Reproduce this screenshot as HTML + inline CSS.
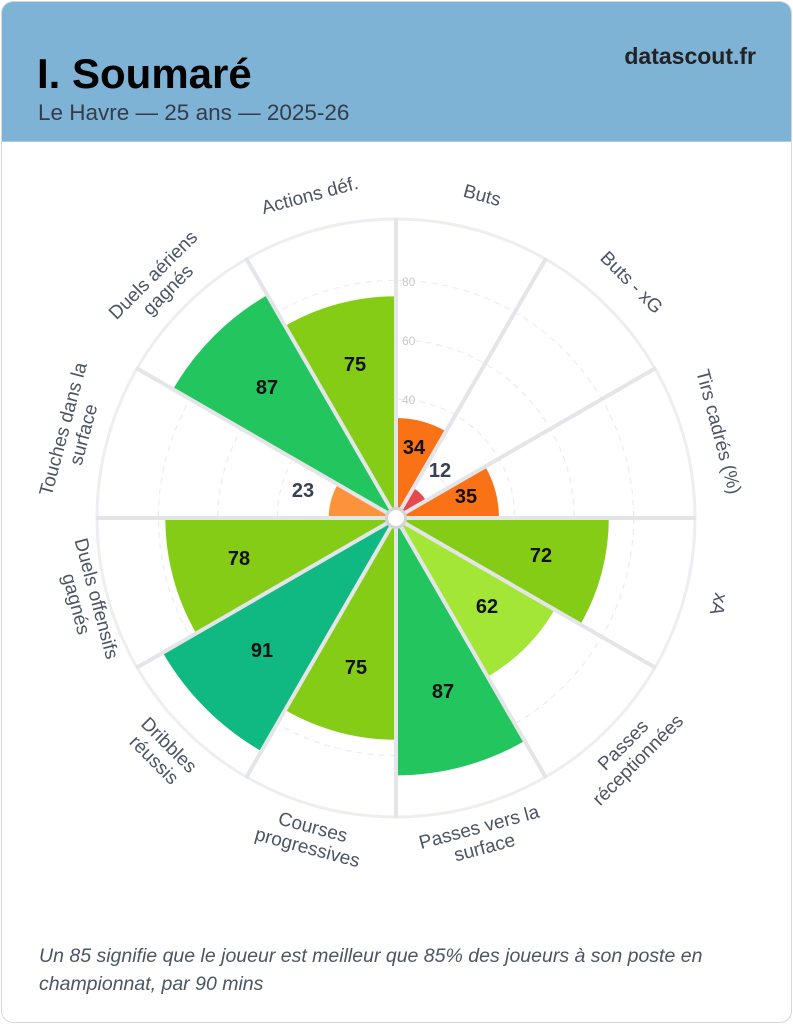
<!DOCTYPE html>
<html><head><meta charset="utf-8"><style>
html,body{margin:0;padding:0;background:#fff;}
body{width:793px;height:1024px;position:relative;font-family:"Liberation Sans",Arial,sans-serif;overflow:hidden}
.card{position:absolute;left:1px;top:1px;width:789px;height:1020px;border:1px solid #d4d8dd;border-radius:12px;overflow:hidden;background:#fff}
.hdr{position:absolute;left:0;top:0;width:789px;height:139px;background:#7fb3d6;border-bottom:1px solid #a9c9e0}
.t{position:absolute;left:35px;top:48px;font-size:42px;font-weight:bold;color:#000}
.s{position:absolute;left:36px;top:98px;font-size:22.5px;color:#333d4a}
.b{position:absolute;right:35px;top:41px;font-size:23px;font-weight:bold;color:#222}
.f{position:absolute;left:37px;top:940px;font-size:19.5px;font-style:italic;color:#4b5563;line-height:28px;width:730px}
svg{position:absolute;left:0;top:0}
</style></head><body>
<div class="card">
<div class="hdr"><div class="t">I. Soumaré</div><div class="s">Le Havre — 25 ans — 2025-26</div><div class="b">datascout.fr</div></div>
<div class="f">Un 85 signifie que le joueur est meilleur que 85% des joueurs à son poste en championnat, par 90 mins</div>
</div>
<svg width="793" height="1024" viewBox="0 0 793 1024">
<circle cx="396" cy="518" r="299" fill="none" stroke="#eceef1" stroke-width="3"/>
<g id="grid" fill="none" stroke="#ececee" stroke-width="1.2" stroke-dasharray="6,5">
<circle cx="396" cy="518" r="59.4"/><circle cx="396" cy="518" r="118.8"/><circle cx="396" cy="518" r="178.2"/><circle cx="396" cy="518" r="237.6"/>
</g>
<g id="bars" stroke="#fff" stroke-width="2"></g>
<g id="lines" stroke="#e4e5e8" stroke-width="4"></g>
<circle cx="396" cy="518" r="9.5" fill="#fff" stroke="#d4d4d8" stroke-width="3"/>
<g font-size="12" fill="#c8c8cc"><text x="402" y="286">80</text><text x="402" y="345">60</text><text x="402" y="404">40</text></g>
<g font-size="20" font-weight="bold" text-anchor="middle" dominant-baseline="central" fill="#111">
<text x="414" y="448">34</text>
<text x="440" y="471" fill="#374151">12</text>
<text x="466" y="497">35</text>
<text x="541" y="556">72</text>
<text x="487" y="607">62</text>
<text x="443" y="692">87</text>
<text x="356" y="668">75</text>
<text x="262" y="651">91</text>
<text x="239" y="559">78</text>
<text x="303" y="491" fill="#374151">23</text>
<text x="267" y="388">87</text>
<text x="355" y="365">75</text>
</g>
<g font-size="19" fill="#4b5563" text-anchor="middle" dominant-baseline="central">
<text transform="translate(482,196) rotate(15)">Buts</text>
<text transform="translate(631,283) rotate(45)">Buts - xG</text>
<text transform="translate(718,432) rotate(75)">Tirs cadrés (%)</text>
<text transform="translate(718,604) rotate(105)">xA</text>
<text transform="translate(631,753) rotate(-45)"><tspan x="0" y="-11">Passes</tspan><tspan x="0" y="10">réceptionnées</tspan></text>
<text transform="translate(482,838) rotate(-15)"><tspan x="0" y="-11">Passes vers la</tspan><tspan x="0" y="10">surface</tspan></text>
<text transform="translate(310,838) rotate(15)"><tspan x="0" y="-11">Courses</tspan><tspan x="0" y="10">progressives</tspan></text>
<text transform="translate(161,753) rotate(45)"><tspan x="0" y="-11">Dribbles</tspan><tspan x="0" y="10">réussis</tspan></text>
<text transform="translate(76,604) rotate(75)"><tspan x="0" y="-21">Duels offensifs</tspan><tspan x="0" y="0">gagnés</tspan></text>
<text transform="translate(74,432) rotate(-75)"><tspan x="0" y="-11">Touches dans la</tspan><tspan x="0" y="10">surface</tspan></text>
<text transform="translate(161,283) rotate(-45)"><tspan x="0" y="-11">Duels aériens</tspan><tspan x="0" y="10">gagnés</tspan></text>
<text transform="translate(310,196) rotate(-15)">Actions déf.</text>
</g>
</svg>
<script>
var cx=396,cy=518,k=2.97;
var d=[[34,"#f97316"],[12,"#e5484d"],[35,"#f97316"],[72,"#84cc16"],[62,"#a3e635"],[87,"#22c55e"],[75,"#84cc16"],[91,"#10b981"],[78,"#84cc16"],[23,"#fb923c"],[87,"#22c55e"],[75,"#84cc16"]];
function P(r,a){a=a*Math.PI/180;return [(cx+r*Math.sin(a)).toFixed(2),(cy-r*Math.cos(a)).toFixed(2)];}
var ns="http://www.w3.org/2000/svg",bars=document.getElementById("bars"),lines=document.getElementById("lines");
d.forEach(function(v,i){var r=v[0]*k,a0=i*30,a1=a0+30,p0=P(r,a0),p1=P(r,a1);
var p=document.createElementNS(ns,"path");p.setAttribute("d","M"+cx+","+cy+"L"+p0+"A"+r+","+r+" 0 0 1 "+p1+"Z");p.setAttribute("fill",v[1]);bars.appendChild(p);
var q=P(300,a0),l=document.createElementNS(ns,"line");l.setAttribute("x1",cx);l.setAttribute("y1",cy);l.setAttribute("x2",q[0]);l.setAttribute("y2",q[1]);lines.appendChild(l);});
</script>
</body></html>
